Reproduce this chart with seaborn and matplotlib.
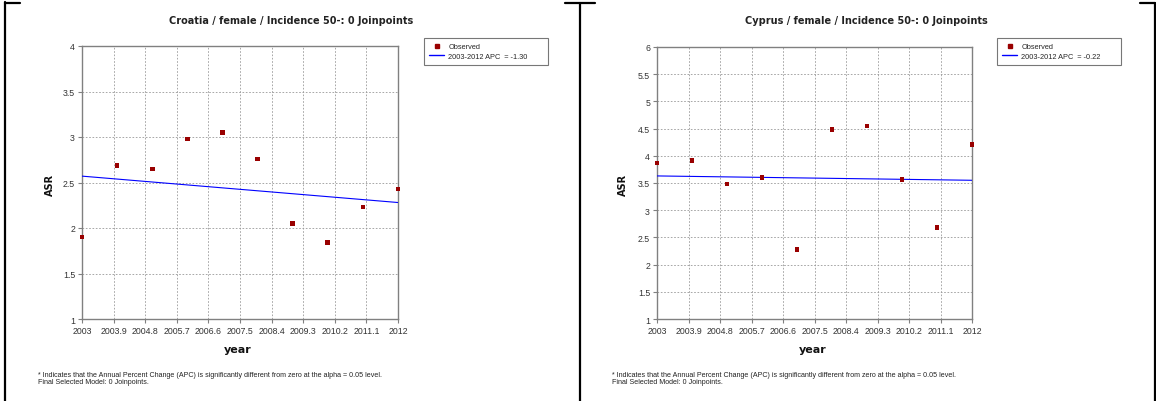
import numpy as np
import pandas as pd
import matplotlib
matplotlib.use("Agg")
import matplotlib.pyplot as plt
import seaborn as sns
from matplotlib.lines import Line2D

sns.set_theme(style="white")
plt.rcParams['font.family'] = ['Liberation Sans', 'DejaVu Sans']

years = [2003, 2004, 2005, 2006, 2007, 2008, 2009, 2010, 2011, 2012]
croatia_asr = [1.90, 2.69, 2.65, 2.98, 3.05, 2.76, 2.05, 1.84, 2.23, 2.43]
cyprus_asr = [3.87, 3.91, 3.48, 3.60, 2.28, 4.48, 4.55, 3.56, 2.68, 4.21]
fit_years = [2003, 2012]
croatia_fit = [2.57, 2.28]
cyprus_fit = [3.63, 3.55]
x_ticks = [2003, 2003.9, 2004.8, 2005.7, 2006.6, 2007.5, 2008.4, 2009.3, 2010.2, 2011.1, 2012]
x_tick_labels = ["2003", "2003.9", "2004.8", "2005.7", "2006.6", "2007.5", "2008.4", "2009.3", "2010.2", "2011.1", "2012"]
croatia_yticks = [1, 1.5, 2, 2.5, 3, 3.5, 4]
cyprus_yticks = [1, 1.5, 2, 2.5, 3, 3.5, 4, 4.5, 5, 5.5, 6]
titles = ["Croatia / female / Incidence 50-: 0 Joinpoints", "Cyprus / female / Incidence 50-: 0 Joinpoints"]
legend_labels = ["2003-2012 APC  = -1.30", "2003-2012 APC  = -0.22"]
footnote = ("* Indicates that the Annual Percent Change (APC) is significantly different from zero at the alpha = 0.05 level.\n"
            "Final Selected Model: 0 Joinpoints.")

W, H = 1156, 402
fig = plt.figure(figsize=(W / 100, H / 100), dpi=100)
fig.patch.set_facecolor("white")

def fx(px):
    return px / W

def fy(py):
    return 1 - py / H

panels = [
    dict(ax_l=82, ax_r=398, ax_t=47, ax_b=320, asr=croatia_asr, fit=croatia_fit, yt=croatia_yticks,
         ylim=(1, 4), title=titles[0], lab=legend_labels[0], leg_x=424, title_x=291, ylab_x=50, year_x=238, foot_x=38),
    dict(ax_l=657, ax_r=972, ax_t=48, ax_b=320, asr=cyprus_asr, fit=cyprus_fit, yt=cyprus_yticks,
         ylim=(1, 6), title=titles[1], lab=legend_labels[1], leg_x=997, title_x=866, ylab_x=623, year_x=813, foot_x=612),
]

for p in panels:
    ax = fig.add_axes([fx(p['ax_l']), fy(p['ax_b']), fx(p['ax_r'] - p['ax_l']), (p['ax_b'] - p['ax_t']) / H])
    df = pd.DataFrame({"year": years, "ASR": p['asr']})
    fdf = pd.DataFrame({"year": fit_years, "fit": p['fit']})
    sns.lineplot(data=fdf, x="year", y="fit", ax=ax, color="#0000FF", linewidth=0.8, zorder=3)
    sns.scatterplot(data=df, x="year", y="ASR", ax=ax, marker="s", color="#990000", s=11,
                    edgecolor="none", zorder=4, clip_on=False)
    ax.set_xlim(2003, 2012)
    ax.set_ylim(*p['ylim'])
    ax.set_xticks(x_ticks)
    ax.set_xticklabels(x_tick_labels)
    ax.set_yticks(p['yt'])
    ax.set_yticklabels([("%g" % v) for v in p['yt']])
    ax.grid(True, linestyle=(0, (2, 2)), color="#999999", linewidth=0.6)
    for s in ax.spines.values():
        s.set_color("#808080")
        s.set_linewidth(1.0)
    ax.tick_params(axis='both', labelsize=6.3, colors="#333333", length=3, width=0.8,
                   pad=2, direction='out', left=True, bottom=True)
    ax.tick_params(axis='both', color="#808080")
    ax.set_xlabel("")
    ax.set_ylabel("")
    fig.text(fx(p['title_x']), fy(21), p['title'], ha='center', va='center', fontsize=7.0,
             fontweight='bold', color="#222222", family=['DejaVu Sans'])
    fig.text(fx(p['ylab_x']), fy(185), "ASR", ha='center', va='center', rotation=90, fontsize=7,
             fontweight='bold', color="#111111", family=['DejaVu Sans'])
    fig.text(fx(p['year_x']), fy(350), "year", ha='center', va='center', fontsize=8,
             fontweight='bold', color="#111111", family=['DejaVu Sans'])
    fig.text(fx(p['foot_x']), fy(372), footnote, ha='left', va='top', fontsize=5.15,
             color="#222222", linespacing=1.05)
    handles = [Line2D([], [], marker='s', color='#990000', linestyle='none', markersize=2.2),
               Line2D([], [], color='#0000FF', linewidth=1.0)]
    leg = ax.legend(handles, ["Observed", p['lab']], loc='upper left',
                    bbox_to_anchor=(fx(p['leg_x']), fy(67), fx(124), 28 / H), bbox_transform=fig.transFigure,
                    mode='expand', fontsize=5.3, frameon=True, fancybox=False, handlelength=2.0,
                    handletextpad=0.6, borderpad=0.7, labelspacing=0.3, borderaxespad=0)
    leg.get_frame().set_edgecolor("#555555")
    leg.get_frame().set_linewidth(0.8)

# panel frame lines
frame_lines = [
    ((5, 5), (3, 402)), ((5, 20), (4, 4)),
    ((580, 580), (4, 402)), ((565, 595), (4, 4)),
    ((1155, 1155), (4, 402)), ((1140, 1155), (4, 4)),
]
for (xs, ys) in frame_lines:
    fig.add_artist(Line2D([fx(xs[0]), fx(xs[1])], [fy(ys[0]), fy(ys[1])], transform=fig.transFigure,
                          color="black", linewidth=1.6))

fig.savefig("out.png", dpi=100, facecolor="white")
